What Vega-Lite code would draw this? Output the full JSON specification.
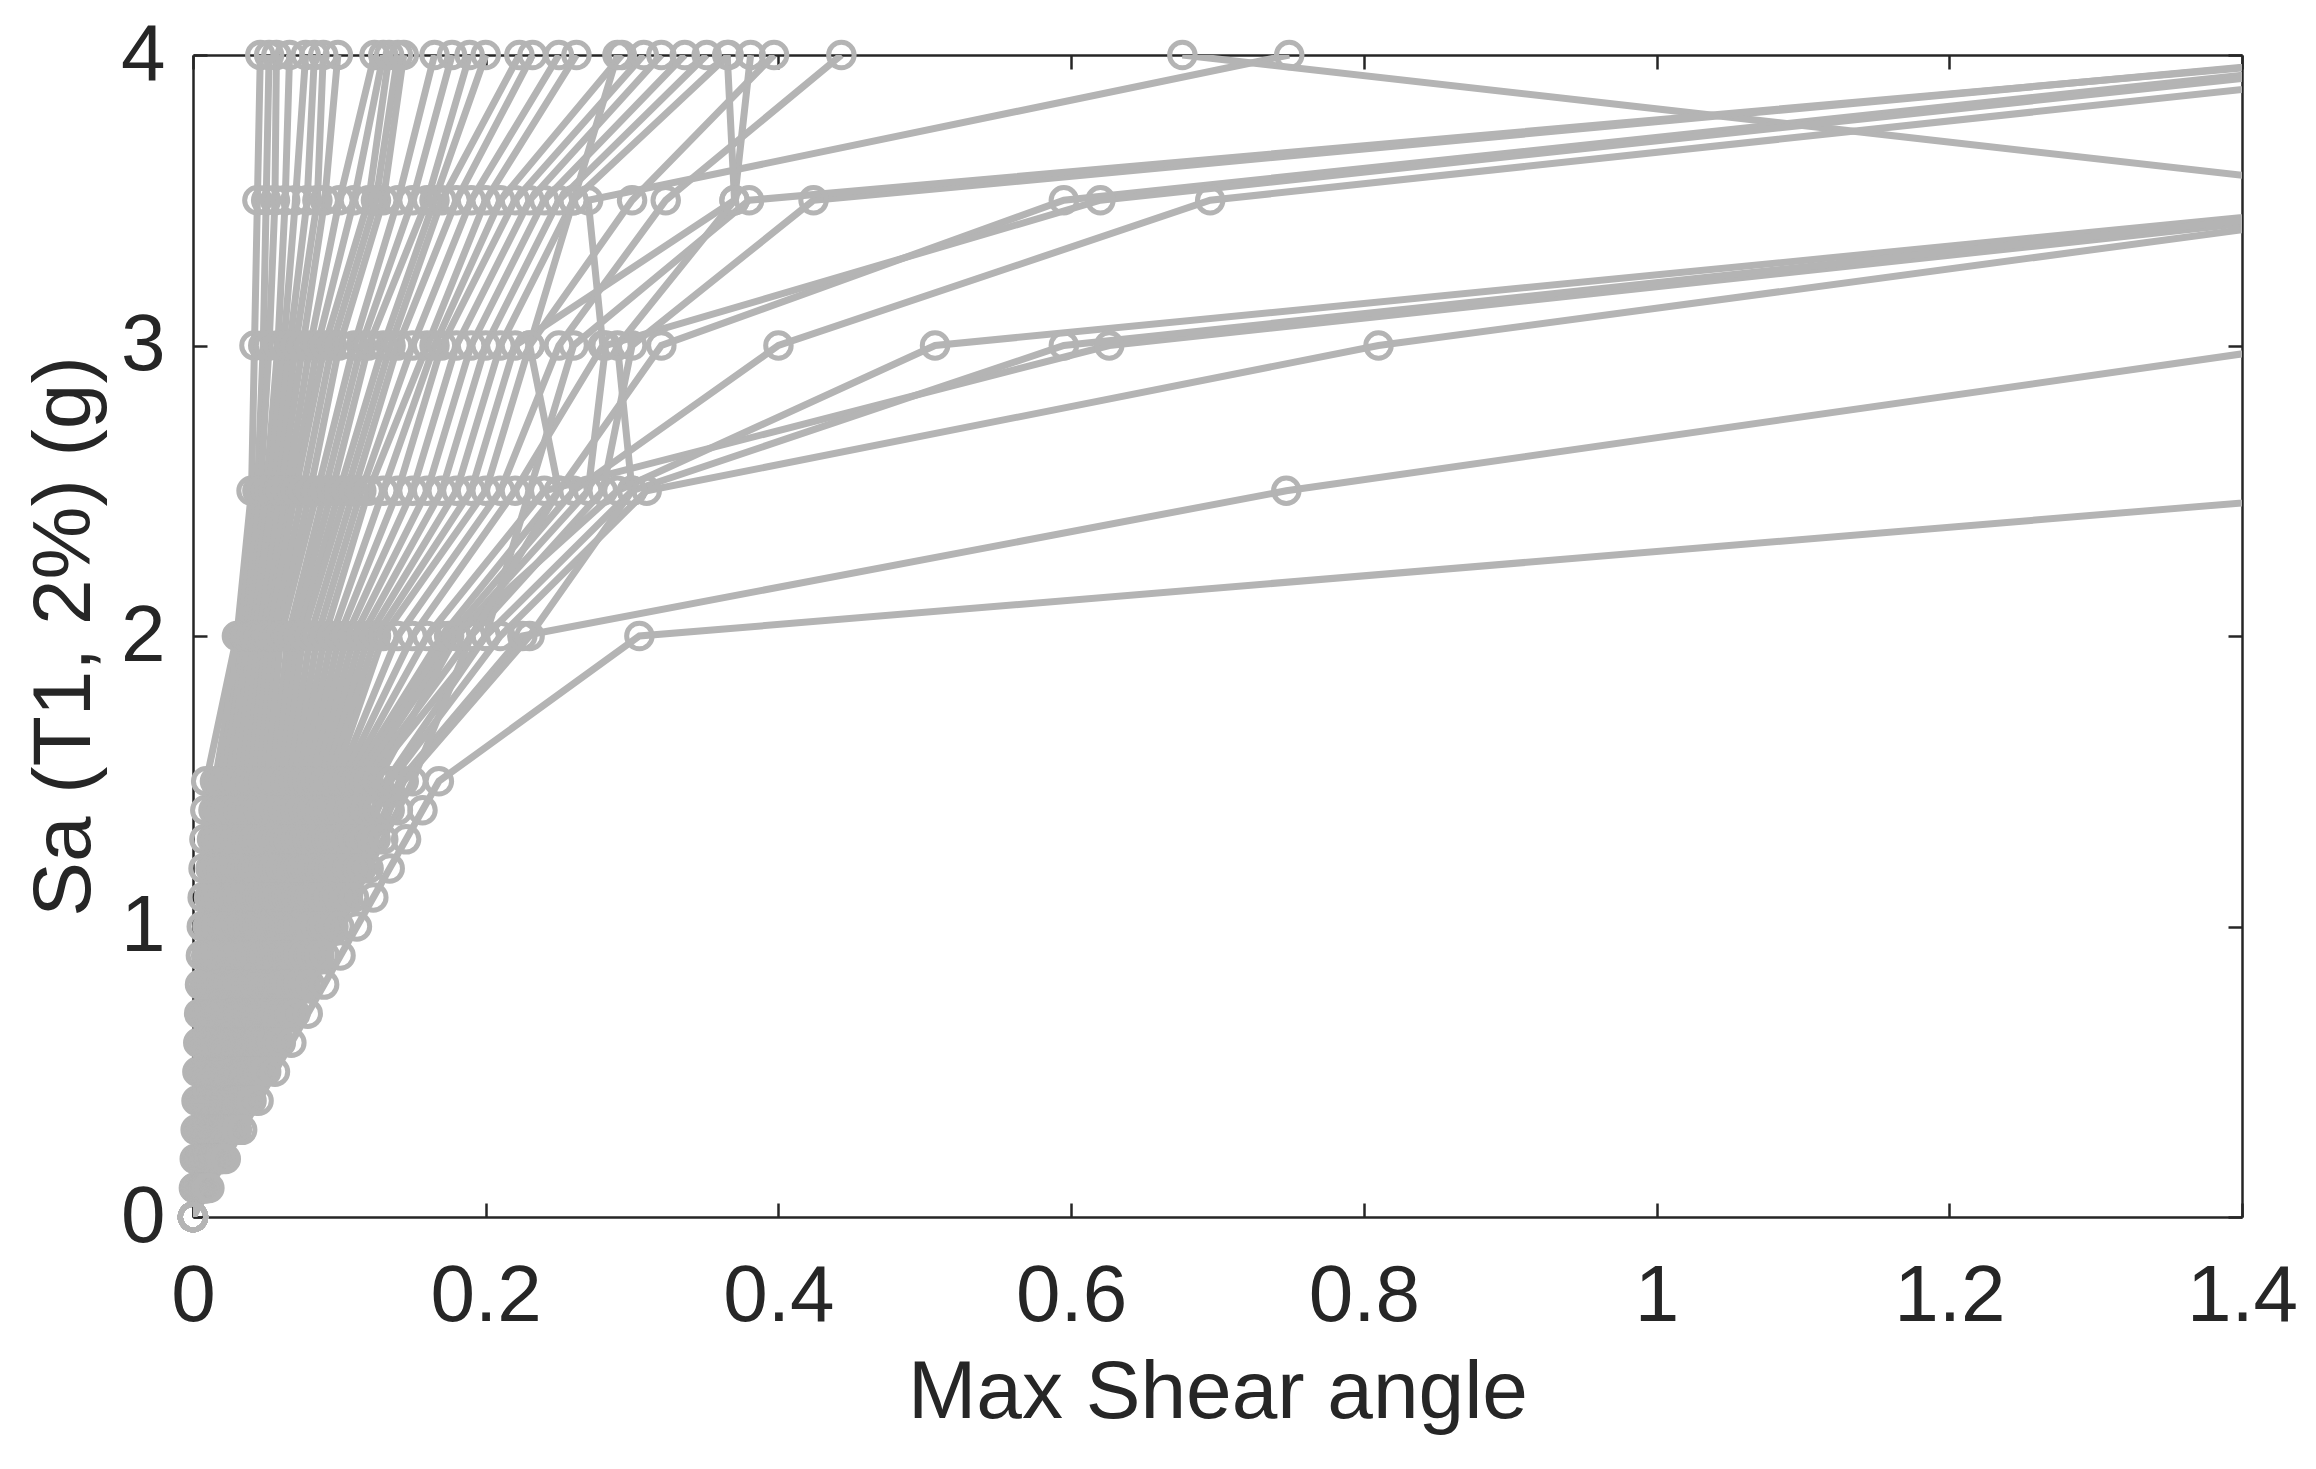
{
"$schema": "https://vega.github.io/schema/vega-lite/v6.json",
"width": 2049, "height": 1162,
"autosize": {"type": "none"},
"padding": {"left": 193, "top": 55, "right": 74, "bottom": 252},
"background": "white",
"config": {"view": {"stroke": null}, "font": "Liberation Sans"},
"data": {"values": [
{"c":1,"x":0,"y":0},{"c":1,"x":0.0006,"y":0.1},{"c":1,"x":0.0012,"y":0.2},{"c":1,"x":0.0018,"y":0.3},{"c":1,"x":0.0024,"y":0.4},{"c":1,"x":0.003,"y":0.5},{"c":1,"x":0.0036,"y":0.6},{"c":1,"x":0.0042,"y":0.7},{"c":1,"x":0.0048,"y":0.8},{"c":1,"x":0.0054,"y":0.9},{"c":1,"x":0.006,"y":1.0},{"c":1,"x":0.0066,"y":1.1},{"c":1,"x":0.0072,"y":1.2},{"c":1,"x":0.0078,"y":1.3},{"c":1,"x":0.0084,"y":1.4},{"c":1,"x":0.009,"y":1.5},{"c":1,"x":0.03,"y":2.0},{"c":1,"x":0.04,"y":2.5},{"c":1,"x":0.042,"y":3.0},{"c":1,"x":0.044,"y":3.5},{"c":1,"x":0.046,"y":4.0},
{"c":2,"x":0,"y":0},{"c":2,"x":0.001,"y":0.1},{"c":2,"x":0.002,"y":0.2},{"c":2,"x":0.003,"y":0.3},{"c":2,"x":0.004,"y":0.4},{"c":2,"x":0.005,"y":0.5},{"c":2,"x":0.006,"y":0.6},{"c":2,"x":0.007,"y":0.7},{"c":2,"x":0.008,"y":0.8},{"c":2,"x":0.009,"y":0.9},{"c":2,"x":0.01,"y":1.0},{"c":2,"x":0.011,"y":1.1},{"c":2,"x":0.012,"y":1.2},{"c":2,"x":0.013,"y":1.3},{"c":2,"x":0.014,"y":1.4},{"c":2,"x":0.015,"y":1.5},{"c":2,"x":0.032,"y":2.0},{"c":2,"x":0.044,"y":2.5},{"c":2,"x":0.048,"y":3.0},{"c":2,"x":0.05,"y":3.5},{"c":2,"x":0.052,"y":4.0},
{"c":3,"x":0,"y":0},{"c":3,"x":0.0012,"y":0.1},{"c":3,"x":0.0024,"y":0.2},{"c":3,"x":0.0036,"y":0.3},{"c":3,"x":0.0048,"y":0.4},{"c":3,"x":0.006,"y":0.5},{"c":3,"x":0.0072,"y":0.6},{"c":3,"x":0.0084,"y":0.7},{"c":3,"x":0.0096,"y":0.8},{"c":3,"x":0.0108,"y":0.9},{"c":3,"x":0.012,"y":1.0},{"c":3,"x":0.0132,"y":1.1},{"c":3,"x":0.0144,"y":1.2},{"c":3,"x":0.0156,"y":1.3},{"c":3,"x":0.0168,"y":1.4},{"c":3,"x":0.018,"y":1.5},{"c":3,"x":0.035,"y":2.0},{"c":3,"x":0.046,"y":2.5},{"c":3,"x":0.052,"y":3.0},{"c":3,"x":0.056,"y":3.5},{"c":3,"x":0.057,"y":4.0},
{"c":4,"x":0,"y":0},{"c":4,"x":0.0014,"y":0.1},{"c":4,"x":0.0028,"y":0.2},{"c":4,"x":0.0042,"y":0.3},{"c":4,"x":0.0056,"y":0.4},{"c":4,"x":0.007,"y":0.5},{"c":4,"x":0.0084,"y":0.6},{"c":4,"x":0.0098,"y":0.7},{"c":4,"x":0.0112,"y":0.8},{"c":4,"x":0.0126,"y":0.9},{"c":4,"x":0.014,"y":1.0},{"c":4,"x":0.0154,"y":1.1},{"c":4,"x":0.0168,"y":1.2},{"c":4,"x":0.0182,"y":1.3},{"c":4,"x":0.0196,"y":1.4},{"c":4,"x":0.021,"y":1.5},{"c":4,"x":0.036,"y":2.0},{"c":4,"x":0.05,"y":2.5},{"c":4,"x":0.058,"y":3.0},{"c":4,"x":0.063,"y":3.5},{"c":4,"x":0.066,"y":4.0},
{"c":5,"x":0,"y":0},{"c":5,"x":0.0016,"y":0.1},{"c":5,"x":0.0032,"y":0.2},{"c":5,"x":0.0048,"y":0.3},{"c":5,"x":0.0064,"y":0.4},{"c":5,"x":0.008,"y":0.5},{"c":5,"x":0.0096,"y":0.6},{"c":5,"x":0.0112,"y":0.7},{"c":5,"x":0.0128,"y":0.8},{"c":5,"x":0.0144,"y":0.9},{"c":5,"x":0.016,"y":1.0},{"c":5,"x":0.0176,"y":1.1},{"c":5,"x":0.0192,"y":1.2},{"c":5,"x":0.0208,"y":1.3},{"c":5,"x":0.0224,"y":1.4},{"c":5,"x":0.024,"y":1.5},{"c":5,"x":0.038,"y":2.0},{"c":5,"x":0.052,"y":2.5},{"c":5,"x":0.062,"y":3.0},{"c":5,"x":0.07,"y":3.5},{"c":5,"x":0.077,"y":4.0},
{"c":6,"x":0,"y":0},{"c":6,"x":0.0018,"y":0.1},{"c":6,"x":0.0036,"y":0.2},{"c":6,"x":0.0054,"y":0.3},{"c":6,"x":0.0072,"y":0.4},{"c":6,"x":0.009,"y":0.5},{"c":6,"x":0.0108,"y":0.6},{"c":6,"x":0.0126,"y":0.7},{"c":6,"x":0.0144,"y":0.8},{"c":6,"x":0.0162,"y":0.9},{"c":6,"x":0.018,"y":1.0},{"c":6,"x":0.0198,"y":1.1},{"c":6,"x":0.0216,"y":1.2},{"c":6,"x":0.0234,"y":1.3},{"c":6,"x":0.0252,"y":1.4},{"c":6,"x":0.027,"y":1.5},{"c":6,"x":0.04,"y":2.0},{"c":6,"x":0.055,"y":2.5},{"c":6,"x":0.066,"y":3.0},{"c":6,"x":0.078,"y":3.5},{"c":6,"x":0.083,"y":4.0},
{"c":7,"x":0,"y":0},{"c":7,"x":0.002,"y":0.1},{"c":7,"x":0.004,"y":0.2},{"c":7,"x":0.006,"y":0.3},{"c":7,"x":0.008,"y":0.4},{"c":7,"x":0.01,"y":0.5},{"c":7,"x":0.012,"y":0.6},{"c":7,"x":0.014,"y":0.7},{"c":7,"x":0.016,"y":0.8},{"c":7,"x":0.018,"y":0.9},{"c":7,"x":0.02,"y":1.0},{"c":7,"x":0.022,"y":1.1},{"c":7,"x":0.024,"y":1.2},{"c":7,"x":0.026,"y":1.3},{"c":7,"x":0.028,"y":1.4},{"c":7,"x":0.03,"y":1.5},{"c":7,"x":0.042,"y":2.0},{"c":7,"x":0.058,"y":2.5},{"c":7,"x":0.07,"y":3.0},{"c":7,"x":0.085,"y":3.5},{"c":7,"x":0.089,"y":4.0},
{"c":8,"x":0,"y":0},{"c":8,"x":0.0022,"y":0.1},{"c":8,"x":0.0044,"y":0.2},{"c":8,"x":0.0066,"y":0.3},{"c":8,"x":0.0088,"y":0.4},{"c":8,"x":0.011,"y":0.5},{"c":8,"x":0.0132,"y":0.6},{"c":8,"x":0.0154,"y":0.7},{"c":8,"x":0.0176,"y":0.8},{"c":8,"x":0.0198,"y":0.9},{"c":8,"x":0.022,"y":1.0},{"c":8,"x":0.0242,"y":1.1},{"c":8,"x":0.0264,"y":1.2},{"c":8,"x":0.0286,"y":1.3},{"c":8,"x":0.0308,"y":1.4},{"c":8,"x":0.033,"y":1.5},{"c":8,"x":0.045,"y":2.0},{"c":8,"x":0.06,"y":2.5},{"c":8,"x":0.075,"y":3.0},{"c":8,"x":0.09,"y":3.5},{"c":8,"x":0.099,"y":4.0},
{"c":9,"x":0,"y":0},{"c":9,"x":0.0024,"y":0.1},{"c":9,"x":0.0048,"y":0.2},{"c":9,"x":0.0072,"y":0.3},{"c":9,"x":0.0096,"y":0.4},{"c":9,"x":0.012,"y":0.5},{"c":9,"x":0.0144,"y":0.6},{"c":9,"x":0.0168,"y":0.7},{"c":9,"x":0.0192,"y":0.8},{"c":9,"x":0.0216,"y":0.9},{"c":9,"x":0.024,"y":1.0},{"c":9,"x":0.0264,"y":1.1},{"c":9,"x":0.0288,"y":1.2},{"c":9,"x":0.0312,"y":1.3},{"c":9,"x":0.0336,"y":1.4},{"c":9,"x":0.036,"y":1.5},{"c":9,"x":0.048,"y":2.0},{"c":9,"x":0.064,"y":2.5},{"c":9,"x":0.08,"y":3.0},{"c":9,"x":0.1,"y":3.5},{"c":9,"x":0.124,"y":4.0},
{"c":10,"x":0,"y":0},{"c":10,"x":0.0026,"y":0.1},{"c":10,"x":0.0052,"y":0.2},{"c":10,"x":0.0078,"y":0.3},{"c":10,"x":0.0104,"y":0.4},{"c":10,"x":0.013,"y":0.5},{"c":10,"x":0.0156,"y":0.6},{"c":10,"x":0.0182,"y":0.7},{"c":10,"x":0.0208,"y":0.8},{"c":10,"x":0.0234,"y":0.9},{"c":10,"x":0.026,"y":1.0},{"c":10,"x":0.0286,"y":1.1},{"c":10,"x":0.0312,"y":1.2},{"c":10,"x":0.0338,"y":1.3},{"c":10,"x":0.0364,"y":1.4},{"c":10,"x":0.039,"y":1.5},{"c":10,"x":0.05,"y":2.0},{"c":10,"x":0.068,"y":2.5},{"c":10,"x":0.085,"y":3.0},{"c":10,"x":0.11,"y":3.5},{"c":10,"x":0.13,"y":4.0},
{"c":11,"x":0,"y":0},{"c":11,"x":0.0028,"y":0.1},{"c":11,"x":0.0056,"y":0.2},{"c":11,"x":0.0084,"y":0.3},{"c":11,"x":0.0112,"y":0.4},{"c":11,"x":0.014,"y":0.5},{"c":11,"x":0.0168,"y":0.6},{"c":11,"x":0.0196,"y":0.7},{"c":11,"x":0.0224,"y":0.8},{"c":11,"x":0.0252,"y":0.9},{"c":11,"x":0.028,"y":1.0},{"c":11,"x":0.0308,"y":1.1},{"c":11,"x":0.0336,"y":1.2},{"c":11,"x":0.0364,"y":1.3},{"c":11,"x":0.0392,"y":1.4},{"c":11,"x":0.042,"y":1.5},{"c":11,"x":0.052,"y":2.0},{"c":11,"x":0.07,"y":2.5},{"c":11,"x":0.09,"y":3.0},{"c":11,"x":0.12,"y":3.5},{"c":11,"x":0.134,"y":4.0},
{"c":12,"x":0,"y":0},{"c":12,"x":0.003,"y":0.1},{"c":12,"x":0.006,"y":0.2},{"c":12,"x":0.009,"y":0.3},{"c":12,"x":0.012,"y":0.4},{"c":12,"x":0.015,"y":0.5},{"c":12,"x":0.018,"y":0.6},{"c":12,"x":0.021,"y":0.7},{"c":12,"x":0.024,"y":0.8},{"c":12,"x":0.027,"y":0.9},{"c":12,"x":0.03,"y":1.0},{"c":12,"x":0.033,"y":1.1},{"c":12,"x":0.036,"y":1.2},{"c":12,"x":0.039,"y":1.3},{"c":12,"x":0.042,"y":1.4},{"c":12,"x":0.045,"y":1.5},{"c":12,"x":0.055,"y":2.0},{"c":12,"x":0.075,"y":2.5},{"c":12,"x":0.095,"y":3.0},{"c":12,"x":0.125,"y":3.5},{"c":12,"x":0.14,"y":4.0},
{"c":13,"x":0,"y":0},{"c":13,"x":0.0032,"y":0.1},{"c":13,"x":0.0064,"y":0.2},{"c":13,"x":0.0096,"y":0.3},{"c":13,"x":0.0128,"y":0.4},{"c":13,"x":0.016,"y":0.5},{"c":13,"x":0.0192,"y":0.6},{"c":13,"x":0.0224,"y":0.7},{"c":13,"x":0.0256,"y":0.8},{"c":13,"x":0.0288,"y":0.9},{"c":13,"x":0.032,"y":1.0},{"c":13,"x":0.0352,"y":1.1},{"c":13,"x":0.0384,"y":1.2},{"c":13,"x":0.0416,"y":1.3},{"c":13,"x":0.0448,"y":1.4},{"c":13,"x":0.048,"y":1.5},{"c":13,"x":0.058,"y":2.0},{"c":13,"x":0.08,"y":2.5},{"c":13,"x":0.1,"y":3.0},{"c":13,"x":0.13,"y":3.5},{"c":13,"x":0.144,"y":4.0},
{"c":14,"x":0,"y":0},{"c":14,"x":0.0034,"y":0.1},{"c":14,"x":0.0068,"y":0.2},{"c":14,"x":0.0102,"y":0.3},{"c":14,"x":0.0136,"y":0.4},{"c":14,"x":0.017,"y":0.5},{"c":14,"x":0.0204,"y":0.6},{"c":14,"x":0.0238,"y":0.7},{"c":14,"x":0.0272,"y":0.8},{"c":14,"x":0.0306,"y":0.9},{"c":14,"x":0.034,"y":1.0},{"c":14,"x":0.0374,"y":1.1},{"c":14,"x":0.0408,"y":1.2},{"c":14,"x":0.0442,"y":1.3},{"c":14,"x":0.0476,"y":1.4},{"c":14,"x":0.051,"y":1.5},{"c":14,"x":0.06,"y":2.0},{"c":14,"x":0.085,"y":2.5},{"c":14,"x":0.11,"y":3.0},{"c":14,"x":0.14,"y":3.5},{"c":14,"x":0.165,"y":4.0},
{"c":15,"x":0,"y":0},{"c":15,"x":0.0036,"y":0.1},{"c":15,"x":0.0072,"y":0.2},{"c":15,"x":0.0108,"y":0.3},{"c":15,"x":0.0144,"y":0.4},{"c":15,"x":0.018,"y":0.5},{"c":15,"x":0.0216,"y":0.6},{"c":15,"x":0.0252,"y":0.7},{"c":15,"x":0.0288,"y":0.8},{"c":15,"x":0.0324,"y":0.9},{"c":15,"x":0.036,"y":1.0},{"c":15,"x":0.0396,"y":1.1},{"c":15,"x":0.0432,"y":1.2},{"c":15,"x":0.0468,"y":1.3},{"c":15,"x":0.0504,"y":1.4},{"c":15,"x":0.054,"y":1.5},{"c":15,"x":0.065,"y":2.0},{"c":15,"x":0.09,"y":2.5},{"c":15,"x":0.115,"y":3.0},{"c":15,"x":0.15,"y":3.5},{"c":15,"x":0.177,"y":4.0},
{"c":16,"x":0,"y":0},{"c":16,"x":0.0038,"y":0.1},{"c":16,"x":0.0076,"y":0.2},{"c":16,"x":0.0114,"y":0.3},{"c":16,"x":0.0152,"y":0.4},{"c":16,"x":0.019,"y":0.5},{"c":16,"x":0.0228,"y":0.6},{"c":16,"x":0.0266,"y":0.7},{"c":16,"x":0.0304,"y":0.8},{"c":16,"x":0.0342,"y":0.9},{"c":16,"x":0.038,"y":1.0},{"c":16,"x":0.0418,"y":1.1},{"c":16,"x":0.0456,"y":1.2},{"c":16,"x":0.0494,"y":1.3},{"c":16,"x":0.0532,"y":1.4},{"c":16,"x":0.057,"y":1.5},{"c":16,"x":0.068,"y":2.0},{"c":16,"x":0.095,"y":2.5},{"c":16,"x":0.12,"y":3.0},{"c":16,"x":0.16,"y":3.5},{"c":16,"x":0.189,"y":4.0},
{"c":17,"x":0,"y":0},{"c":17,"x":0.004,"y":0.1},{"c":17,"x":0.008,"y":0.2},{"c":17,"x":0.012,"y":0.3},{"c":17,"x":0.016,"y":0.4},{"c":17,"x":0.02,"y":0.5},{"c":17,"x":0.024,"y":0.6},{"c":17,"x":0.028,"y":0.7},{"c":17,"x":0.032,"y":0.8},{"c":17,"x":0.036,"y":0.9},{"c":17,"x":0.04,"y":1.0},{"c":17,"x":0.044,"y":1.1},{"c":17,"x":0.048,"y":1.2},{"c":17,"x":0.052,"y":1.3},{"c":17,"x":0.056,"y":1.4},{"c":17,"x":0.06,"y":1.5},{"c":17,"x":0.072,"y":2.0},{"c":17,"x":0.1,"y":2.5},{"c":17,"x":0.13,"y":3.0},{"c":17,"x":0.165,"y":3.5},{"c":17,"x":0.2,"y":4.0},
{"c":18,"x":0,"y":0},{"c":18,"x":0.0042,"y":0.1},{"c":18,"x":0.0084,"y":0.2},{"c":18,"x":0.0126,"y":0.3},{"c":18,"x":0.0168,"y":0.4},{"c":18,"x":0.021,"y":0.5},{"c":18,"x":0.0252,"y":0.6},{"c":18,"x":0.0294,"y":0.7},{"c":18,"x":0.0336,"y":0.8},{"c":18,"x":0.0378,"y":0.9},{"c":18,"x":0.042,"y":1.0},{"c":18,"x":0.0462,"y":1.1},{"c":18,"x":0.0504,"y":1.2},{"c":18,"x":0.0546,"y":1.3},{"c":18,"x":0.0588,"y":1.4},{"c":18,"x":0.063,"y":1.5},{"c":18,"x":0.075,"y":2.0},{"c":18,"x":0.105,"y":2.5},{"c":18,"x":0.135,"y":3.0},{"c":18,"x":0.17,"y":3.5},{"c":18,"x":0.223,"y":4.0},
{"c":19,"x":0,"y":0},{"c":19,"x":0.0044,"y":0.1},{"c":19,"x":0.0088,"y":0.2},{"c":19,"x":0.0132,"y":0.3},{"c":19,"x":0.0176,"y":0.4},{"c":19,"x":0.022,"y":0.5},{"c":19,"x":0.0264,"y":0.6},{"c":19,"x":0.0308,"y":0.7},{"c":19,"x":0.0352,"y":0.8},{"c":19,"x":0.0396,"y":0.9},{"c":19,"x":0.044,"y":1.0},{"c":19,"x":0.0484,"y":1.1},{"c":19,"x":0.0528,"y":1.2},{"c":19,"x":0.0572,"y":1.3},{"c":19,"x":0.0616,"y":1.4},{"c":19,"x":0.066,"y":1.5},{"c":19,"x":0.08,"y":2.0},{"c":19,"x":0.11,"y":2.5},{"c":19,"x":0.14,"y":3.0},{"c":19,"x":0.18,"y":3.5},{"c":19,"x":0.232,"y":4.0},
{"c":20,"x":0,"y":0},{"c":20,"x":0.0046,"y":0.1},{"c":20,"x":0.0092,"y":0.2},{"c":20,"x":0.0138,"y":0.3},{"c":20,"x":0.0184,"y":0.4},{"c":20,"x":0.023,"y":0.5},{"c":20,"x":0.0276,"y":0.6},{"c":20,"x":0.0322,"y":0.7},{"c":20,"x":0.0368,"y":0.8},{"c":20,"x":0.0414,"y":0.9},{"c":20,"x":0.046,"y":1.0},{"c":20,"x":0.0506,"y":1.1},{"c":20,"x":0.0552,"y":1.2},{"c":20,"x":0.0598,"y":1.3},{"c":20,"x":0.0644,"y":1.4},{"c":20,"x":0.069,"y":1.5},{"c":20,"x":0.085,"y":2.0},{"c":20,"x":0.115,"y":2.5},{"c":20,"x":0.15,"y":3.0},{"c":20,"x":0.19,"y":3.5},{"c":20,"x":0.25,"y":4.0},
{"c":21,"x":0,"y":0},{"c":21,"x":0.0048,"y":0.1},{"c":21,"x":0.0096,"y":0.2},{"c":21,"x":0.0144,"y":0.3},{"c":21,"x":0.0192,"y":0.4},{"c":21,"x":0.024,"y":0.5},{"c":21,"x":0.0288,"y":0.6},{"c":21,"x":0.0336,"y":0.7},{"c":21,"x":0.0384,"y":0.8},{"c":21,"x":0.0432,"y":0.9},{"c":21,"x":0.048,"y":1.0},{"c":21,"x":0.0528,"y":1.1},{"c":21,"x":0.0576,"y":1.2},{"c":21,"x":0.0624,"y":1.3},{"c":21,"x":0.0672,"y":1.4},{"c":21,"x":0.072,"y":1.5},{"c":21,"x":0.09,"y":2.0},{"c":21,"x":0.12,"y":2.5},{"c":21,"x":0.16,"y":3.0},{"c":21,"x":0.2,"y":3.5},{"c":21,"x":0.262,"y":4.0},
{"c":22,"x":0,"y":0},{"c":22,"x":0.005,"y":0.1},{"c":22,"x":0.01,"y":0.2},{"c":22,"x":0.015,"y":0.3},{"c":22,"x":0.02,"y":0.4},{"c":22,"x":0.025,"y":0.5},{"c":22,"x":0.03,"y":0.6},{"c":22,"x":0.035,"y":0.7},{"c":22,"x":0.04,"y":0.8},{"c":22,"x":0.045,"y":0.9},{"c":22,"x":0.05,"y":1.0},{"c":22,"x":0.055,"y":1.1},{"c":22,"x":0.06,"y":1.2},{"c":22,"x":0.065,"y":1.3},{"c":22,"x":0.07,"y":1.4},{"c":22,"x":0.075,"y":1.5},{"c":22,"x":0.095,"y":2.0},{"c":22,"x":0.13,"y":2.5},{"c":22,"x":0.165,"y":3.0},{"c":22,"x":0.21,"y":3.5},{"c":22,"x":0.293,"y":4.0},
{"c":23,"x":0,"y":0},{"c":23,"x":0.0052,"y":0.1},{"c":23,"x":0.0104,"y":0.2},{"c":23,"x":0.0156,"y":0.3},{"c":23,"x":0.0208,"y":0.4},{"c":23,"x":0.026,"y":0.5},{"c":23,"x":0.0312,"y":0.6},{"c":23,"x":0.0364,"y":0.7},{"c":23,"x":0.0416,"y":0.8},{"c":23,"x":0.0468,"y":0.9},{"c":23,"x":0.052,"y":1.0},{"c":23,"x":0.0572,"y":1.1},{"c":23,"x":0.0624,"y":1.2},{"c":23,"x":0.0676,"y":1.3},{"c":23,"x":0.0728,"y":1.4},{"c":23,"x":0.078,"y":1.5},{"c":23,"x":0.1,"y":2.0},{"c":23,"x":0.14,"y":2.5},{"c":23,"x":0.17,"y":3.0},{"c":23,"x":0.22,"y":3.5},{"c":23,"x":0.308,"y":4.0},
{"c":24,"x":0,"y":0},{"c":24,"x":0.0054,"y":0.1},{"c":24,"x":0.0108,"y":0.2},{"c":24,"x":0.0162,"y":0.3},{"c":24,"x":0.0216,"y":0.4},{"c":24,"x":0.027,"y":0.5},{"c":24,"x":0.0324,"y":0.6},{"c":24,"x":0.0378,"y":0.7},{"c":24,"x":0.0432,"y":0.8},{"c":24,"x":0.0486,"y":0.9},{"c":24,"x":0.054,"y":1.0},{"c":24,"x":0.0594,"y":1.1},{"c":24,"x":0.0648,"y":1.2},{"c":24,"x":0.0702,"y":1.3},{"c":24,"x":0.0756,"y":1.4},{"c":24,"x":0.081,"y":1.5},{"c":24,"x":0.105,"y":2.0},{"c":24,"x":0.15,"y":2.5},{"c":24,"x":0.18,"y":3.0},{"c":24,"x":0.23,"y":3.5},{"c":24,"x":0.32,"y":4.0},
{"c":25,"x":0,"y":0},{"c":25,"x":0.0056,"y":0.1},{"c":25,"x":0.0112,"y":0.2},{"c":25,"x":0.0168,"y":0.3},{"c":25,"x":0.0224,"y":0.4},{"c":25,"x":0.028,"y":0.5},{"c":25,"x":0.0336,"y":0.6},{"c":25,"x":0.0392,"y":0.7},{"c":25,"x":0.0448,"y":0.8},{"c":25,"x":0.0504,"y":0.9},{"c":25,"x":0.056,"y":1.0},{"c":25,"x":0.0616,"y":1.1},{"c":25,"x":0.0672,"y":1.2},{"c":25,"x":0.0728,"y":1.3},{"c":25,"x":0.0784,"y":1.4},{"c":25,"x":0.084,"y":1.5},{"c":25,"x":0.11,"y":2.0},{"c":25,"x":0.16,"y":2.5},{"c":25,"x":0.19,"y":3.0},{"c":25,"x":0.24,"y":3.5},{"c":25,"x":0.336,"y":4.0},
{"c":26,"x":0,"y":0},{"c":26,"x":0.0058,"y":0.1},{"c":26,"x":0.0116,"y":0.2},{"c":26,"x":0.0174,"y":0.3},{"c":26,"x":0.0232,"y":0.4},{"c":26,"x":0.029,"y":0.5},{"c":26,"x":0.0348,"y":0.6},{"c":26,"x":0.0406,"y":0.7},{"c":26,"x":0.0464,"y":0.8},{"c":26,"x":0.0522,"y":0.9},{"c":26,"x":0.058,"y":1.0},{"c":26,"x":0.0638,"y":1.1},{"c":26,"x":0.0696,"y":1.2},{"c":26,"x":0.0754,"y":1.3},{"c":26,"x":0.0812,"y":1.4},{"c":26,"x":0.087,"y":1.5},{"c":26,"x":0.115,"y":2.0},{"c":26,"x":0.17,"y":2.5},{"c":26,"x":0.2,"y":3.0},{"c":26,"x":0.25,"y":3.5},{"c":26,"x":0.351,"y":4.0},
{"c":27,"x":0,"y":0},{"c":27,"x":0.006,"y":0.1},{"c":27,"x":0.012,"y":0.2},{"c":27,"x":0.018,"y":0.3},{"c":27,"x":0.024,"y":0.4},{"c":27,"x":0.03,"y":0.5},{"c":27,"x":0.036,"y":0.6},{"c":27,"x":0.042,"y":0.7},{"c":27,"x":0.048,"y":0.8},{"c":27,"x":0.054,"y":0.9},{"c":27,"x":0.06,"y":1.0},{"c":27,"x":0.066,"y":1.1},{"c":27,"x":0.072,"y":1.2},{"c":27,"x":0.078,"y":1.3},{"c":27,"x":0.084,"y":1.4},{"c":27,"x":0.09,"y":1.5},{"c":27,"x":0.12,"y":2.0},{"c":27,"x":0.18,"y":2.5},{"c":27,"x":0.21,"y":3.0},{"c":27,"x":0.26,"y":3.5},{"c":27,"x":0.366,"y":4.0},
{"c":28,"x":0,"y":0},{"c":28,"x":0.0062,"y":0.1},{"c":28,"x":0.0124,"y":0.2},{"c":28,"x":0.0186,"y":0.3},{"c":28,"x":0.0248,"y":0.4},{"c":28,"x":0.031,"y":0.5},{"c":28,"x":0.0372,"y":0.6},{"c":28,"x":0.0434,"y":0.7},{"c":28,"x":0.0496,"y":0.8},{"c":28,"x":0.0558,"y":0.9},{"c":28,"x":0.062,"y":1.0},{"c":28,"x":0.0682,"y":1.1},{"c":28,"x":0.0744,"y":1.2},{"c":28,"x":0.0806,"y":1.3},{"c":28,"x":0.0868,"y":1.4},{"c":28,"x":0.093,"y":1.5},{"c":28,"x":0.125,"y":2.0},{"c":28,"x":0.19,"y":2.5},{"c":28,"x":0.22,"y":3.0},{"c":28,"x":0.37,"y":3.5},{"c":28,"x":0.381,"y":4.0},
{"c":29,"x":0,"y":0},{"c":29,"x":0.0064,"y":0.1},{"c":29,"x":0.0128,"y":0.2},{"c":29,"x":0.0192,"y":0.3},{"c":29,"x":0.0256,"y":0.4},{"c":29,"x":0.032,"y":0.5},{"c":29,"x":0.0384,"y":0.6},{"c":29,"x":0.0448,"y":0.7},{"c":29,"x":0.0512,"y":0.8},{"c":29,"x":0.0576,"y":0.9},{"c":29,"x":0.064,"y":1.0},{"c":29,"x":0.0704,"y":1.1},{"c":29,"x":0.0768,"y":1.2},{"c":29,"x":0.0832,"y":1.3},{"c":29,"x":0.0896,"y":1.4},{"c":29,"x":0.096,"y":1.5},{"c":29,"x":0.13,"y":2.0},{"c":29,"x":0.2,"y":2.5},{"c":29,"x":0.23,"y":3.0},{"c":29,"x":0.3,"y":3.5},{"c":29,"x":0.397,"y":4.0},
{"c":30,"x":0,"y":0},{"c":30,"x":0.0066,"y":0.1},{"c":30,"x":0.0132,"y":0.2},{"c":30,"x":0.0198,"y":0.3},{"c":30,"x":0.0264,"y":0.4},{"c":30,"x":0.033,"y":0.5},{"c":30,"x":0.0396,"y":0.6},{"c":30,"x":0.0462,"y":0.7},{"c":30,"x":0.0528,"y":0.8},{"c":30,"x":0.0594,"y":0.9},{"c":30,"x":0.066,"y":1.0},{"c":30,"x":0.0726,"y":1.1},{"c":30,"x":0.0792,"y":1.2},{"c":30,"x":0.0858,"y":1.3},{"c":30,"x":0.0924,"y":1.4},{"c":30,"x":0.099,"y":1.5},{"c":30,"x":0.14,"y":2.0},{"c":30,"x":0.21,"y":2.5},{"c":30,"x":0.25,"y":3.0},{"c":30,"x":0.323,"y":3.5},{"c":30,"x":0.443,"y":4.0},
{"c":31,"x":0,"y":0},{"c":31,"x":0.0068,"y":0.1},{"c":31,"x":0.0136,"y":0.2},{"c":31,"x":0.0204,"y":0.3},{"c":31,"x":0.0272,"y":0.4},{"c":31,"x":0.034,"y":0.5},{"c":31,"x":0.0408,"y":0.6},{"c":31,"x":0.0476,"y":0.7},{"c":31,"x":0.0544,"y":0.8},{"c":31,"x":0.0612,"y":0.9},{"c":31,"x":0.068,"y":1.0},{"c":31,"x":0.0748,"y":1.1},{"c":31,"x":0.0816,"y":1.2},{"c":31,"x":0.0884,"y":1.3},{"c":31,"x":0.0952,"y":1.4},{"c":31,"x":0.102,"y":1.5},{"c":31,"x":0.15,"y":2.0},{"c":31,"x":0.22,"y":2.5},{"c":31,"x":0.28,"y":3.0},{"c":31,"x":0.27,"y":3.5},{"c":31,"x":0.749,"y":4.0},
{"c":32,"x":0,"y":0},{"c":32,"x":0.007,"y":0.1},{"c":32,"x":0.014,"y":0.2},{"c":32,"x":0.021,"y":0.3},{"c":32,"x":0.028,"y":0.4},{"c":32,"x":0.035,"y":0.5},{"c":32,"x":0.042,"y":0.6},{"c":32,"x":0.049,"y":0.7},{"c":32,"x":0.056,"y":0.8},{"c":32,"x":0.063,"y":0.9},{"c":32,"x":0.07,"y":1.0},{"c":32,"x":0.077,"y":1.1},{"c":32,"x":0.084,"y":1.2},{"c":32,"x":0.091,"y":1.3},{"c":32,"x":0.098,"y":1.4},{"c":32,"x":0.105,"y":1.5},{"c":32,"x":0.16,"y":2.0},{"c":32,"x":0.24,"y":2.5},{"c":32,"x":0.626,"y":3.0},{"c":32,"x":1.55,"y":3.5},{"c":32,"x":0.676,"y":4.0},
{"c":33,"x":0,"y":0},{"c":33,"x":0.0072,"y":0.1},{"c":33,"x":0.0144,"y":0.2},{"c":33,"x":0.0216,"y":0.3},{"c":33,"x":0.0288,"y":0.4},{"c":33,"x":0.036,"y":0.5},{"c":33,"x":0.0432,"y":0.6},{"c":33,"x":0.0504,"y":0.7},{"c":33,"x":0.0576,"y":0.8},{"c":33,"x":0.0648,"y":0.9},{"c":33,"x":0.072,"y":1.0},{"c":33,"x":0.0792,"y":1.1},{"c":33,"x":0.0864,"y":1.2},{"c":33,"x":0.0936,"y":1.3},{"c":33,"x":0.1008,"y":1.4},{"c":33,"x":0.108,"y":1.5},{"c":33,"x":0.17,"y":2.0},{"c":33,"x":0.25,"y":2.5},{"c":33,"x":0.32,"y":3.0},{"c":33,"x":0.595,"y":3.5},{"c":33,"x":1.53,"y":4.0},
{"c":34,"x":0,"y":0},{"c":34,"x":0.0074,"y":0.1},{"c":34,"x":0.0148,"y":0.2},{"c":34,"x":0.0222,"y":0.3},{"c":34,"x":0.0296,"y":0.4},{"c":34,"x":0.037,"y":0.5},{"c":34,"x":0.0444,"y":0.6},{"c":34,"x":0.0518,"y":0.7},{"c":34,"x":0.0592,"y":0.8},{"c":34,"x":0.0666,"y":0.9},{"c":34,"x":0.074,"y":1.0},{"c":34,"x":0.0814,"y":1.1},{"c":34,"x":0.0888,"y":1.2},{"c":34,"x":0.0962,"y":1.3},{"c":34,"x":0.1036,"y":1.4},{"c":34,"x":0.111,"y":1.5},{"c":34,"x":0.175,"y":2.0},{"c":34,"x":0.26,"y":2.5},{"c":34,"x":0.4,"y":3.0},{"c":34,"x":0.695,"y":3.5},{"c":34,"x":1.62,"y":4.0},
{"c":35,"x":0,"y":0},{"c":35,"x":0.0076,"y":0.1},{"c":35,"x":0.0152,"y":0.2},{"c":35,"x":0.0228,"y":0.3},{"c":35,"x":0.0304,"y":0.4},{"c":35,"x":0.038,"y":0.5},{"c":35,"x":0.0456,"y":0.6},{"c":35,"x":0.0532,"y":0.7},{"c":35,"x":0.0608,"y":0.8},{"c":35,"x":0.0684,"y":0.9},{"c":35,"x":0.076,"y":1.0},{"c":35,"x":0.0836,"y":1.1},{"c":35,"x":0.0912,"y":1.2},{"c":35,"x":0.0988,"y":1.3},{"c":35,"x":0.1064,"y":1.4},{"c":35,"x":0.114,"y":1.5},{"c":35,"x":0.18,"y":2.0},{"c":35,"x":0.27,"y":2.5},{"c":35,"x":0.282,"y":3.0},{"c":35,"x":0.62,"y":3.5},{"c":35,"x":1.55,"y":4.0},
{"c":36,"x":0,"y":0},{"c":36,"x":0.0078,"y":0.1},{"c":36,"x":0.0156,"y":0.2},{"c":36,"x":0.0234,"y":0.3},{"c":36,"x":0.0312,"y":0.4},{"c":36,"x":0.039,"y":0.5},{"c":36,"x":0.0468,"y":0.6},{"c":36,"x":0.0546,"y":0.7},{"c":36,"x":0.0624,"y":0.8},{"c":36,"x":0.0702,"y":0.9},{"c":36,"x":0.078,"y":1.0},{"c":36,"x":0.0858,"y":1.1},{"c":36,"x":0.0936,"y":1.2},{"c":36,"x":0.1014,"y":1.3},{"c":36,"x":0.1092,"y":1.4},{"c":36,"x":0.117,"y":1.5},{"c":36,"x":0.19,"y":2.0},{"c":36,"x":0.28,"y":2.5},{"c":36,"x":0.3,"y":3.0},{"c":36,"x":0.424,"y":3.5},{"c":36,"x":1.49,"y":4.0},
{"c":37,"x":0,"y":0},{"c":37,"x":0.008,"y":0.1},{"c":37,"x":0.016,"y":0.2},{"c":37,"x":0.024,"y":0.3},{"c":37,"x":0.032,"y":0.4},{"c":37,"x":0.04,"y":0.5},{"c":37,"x":0.048,"y":0.6},{"c":37,"x":0.056,"y":0.7},{"c":37,"x":0.064,"y":0.8},{"c":37,"x":0.072,"y":0.9},{"c":37,"x":0.08,"y":1.0},{"c":37,"x":0.088,"y":1.1},{"c":37,"x":0.096,"y":1.2},{"c":37,"x":0.104,"y":1.3},{"c":37,"x":0.112,"y":1.4},{"c":37,"x":0.12,"y":1.5},{"c":37,"x":0.2,"y":2.0},{"c":37,"x":0.23,"y":2.5},{"c":37,"x":0.26,"y":3.0},{"c":37,"x":0.38,"y":3.5},{"c":37,"x":1.5,"y":4.0},
{"c":38,"x":0,"y":0},{"c":38,"x":0.0084,"y":0.1},{"c":38,"x":0.0168,"y":0.2},{"c":38,"x":0.0252,"y":0.3},{"c":38,"x":0.0336,"y":0.4},{"c":38,"x":0.042,"y":0.5},{"c":38,"x":0.0504,"y":0.6},{"c":38,"x":0.0588,"y":0.7},{"c":38,"x":0.0672,"y":0.8},{"c":38,"x":0.0756,"y":0.9},{"c":38,"x":0.084,"y":1.0},{"c":38,"x":0.0924,"y":1.1},{"c":38,"x":0.1008,"y":1.2},{"c":38,"x":0.1092,"y":1.3},{"c":38,"x":0.1176,"y":1.4},{"c":38,"x":0.126,"y":1.5},{"c":38,"x":0.18,"y":2.0},{"c":38,"x":0.29,"y":2.5},{"c":38,"x":0.507,"y":3.0},{"c":38,"x":1.52,"y":3.5},
{"c":39,"x":0,"y":0},{"c":39,"x":0.0088,"y":0.1},{"c":39,"x":0.0176,"y":0.2},{"c":39,"x":0.0264,"y":0.3},{"c":39,"x":0.0352,"y":0.4},{"c":39,"x":0.044,"y":0.5},{"c":39,"x":0.0528,"y":0.6},{"c":39,"x":0.0616,"y":0.7},{"c":39,"x":0.0704,"y":0.8},{"c":39,"x":0.0792,"y":0.9},{"c":39,"x":0.088,"y":1.0},{"c":39,"x":0.0968,"y":1.1},{"c":39,"x":0.1056,"y":1.2},{"c":39,"x":0.1144,"y":1.3},{"c":39,"x":0.1232,"y":1.4},{"c":39,"x":0.132,"y":1.5},{"c":39,"x":0.2,"y":2.0},{"c":39,"x":0.3,"y":2.5},{"c":39,"x":0.595,"y":3.0},{"c":39,"x":1.53,"y":3.5},
{"c":40,"x":0,"y":0},{"c":40,"x":0.009,"y":0.1},{"c":40,"x":0.018,"y":0.2},{"c":40,"x":0.027,"y":0.3},{"c":40,"x":0.036,"y":0.4},{"c":40,"x":0.045,"y":0.5},{"c":40,"x":0.054,"y":0.6},{"c":40,"x":0.063,"y":0.7},{"c":40,"x":0.072,"y":0.8},{"c":40,"x":0.081,"y":0.9},{"c":40,"x":0.09,"y":1.0},{"c":40,"x":0.099,"y":1.1},{"c":40,"x":0.108,"y":1.2},{"c":40,"x":0.117,"y":1.3},{"c":40,"x":0.126,"y":1.4},{"c":40,"x":0.135,"y":1.5},{"c":40,"x":0.21,"y":2.0},{"c":40,"x":0.31,"y":2.5},{"c":40,"x":0.81,"y":3.0},{"c":40,"x":1.55,"y":3.5},
{"c":41,"x":0,"y":0},{"c":41,"x":0.0094,"y":0.1},{"c":41,"x":0.0188,"y":0.2},{"c":41,"x":0.0282,"y":0.3},{"c":41,"x":0.0376,"y":0.4},{"c":41,"x":0.047,"y":0.5},{"c":41,"x":0.0564,"y":0.6},{"c":41,"x":0.0658,"y":0.7},{"c":41,"x":0.0752,"y":0.8},{"c":41,"x":0.0846,"y":0.9},{"c":41,"x":0.094,"y":1.0},{"c":41,"x":0.1034,"y":1.1},{"c":41,"x":0.1128,"y":1.2},{"c":41,"x":0.1222,"y":1.3},{"c":41,"x":0.1316,"y":1.4},{"c":41,"x":0.141,"y":1.5},{"c":41,"x":0.225,"y":2.0},{"c":41,"x":0.747,"y":2.5},{"c":41,"x":1.44,"y":3.0},
{"c":42,"x":0,"y":0},{"c":42,"x":0.0096,"y":0.1},{"c":42,"x":0.0192,"y":0.2},{"c":42,"x":0.0288,"y":0.3},{"c":42,"x":0.0384,"y":0.4},{"c":42,"x":0.048,"y":0.5},{"c":42,"x":0.0576,"y":0.6},{"c":42,"x":0.0672,"y":0.7},{"c":42,"x":0.0768,"y":0.8},{"c":42,"x":0.0864,"y":0.9},{"c":42,"x":0.096,"y":1.0},{"c":42,"x":0.1056,"y":1.1},{"c":42,"x":0.1152,"y":1.2},{"c":42,"x":0.1248,"y":1.3},{"c":42,"x":0.1344,"y":1.4},{"c":42,"x":0.144,"y":1.5},{"c":42,"x":0.23,"y":2.0},{"c":42,"x":0.3,"y":2.5},{"c":42,"x":0.29,"y":3.0},{"c":42,"x":0.37,"y":3.5},{"c":42,"x":0.365,"y":4.0},
{"c":43,"x":0,"y":0},{"c":43,"x":0.01,"y":0.1},{"c":43,"x":0.02,"y":0.2},{"c":43,"x":0.03,"y":0.3},{"c":43,"x":0.04,"y":0.4},{"c":43,"x":0.05,"y":0.5},{"c":43,"x":0.06,"y":0.6},{"c":43,"x":0.07,"y":0.7},{"c":43,"x":0.08,"y":0.8},{"c":43,"x":0.09,"y":0.9},{"c":43,"x":0.1,"y":1.0},{"c":43,"x":0.11,"y":1.1},{"c":43,"x":0.12,"y":1.2},{"c":43,"x":0.13,"y":1.3},{"c":43,"x":0.14,"y":1.4},{"c":43,"x":0.15,"y":1.5},{"c":43,"x":0.19,"y":2.0},{"c":43,"x":0.25,"y":2.5},{"c":43,"x":0.23,"y":3.0},{"c":43,"x":0.26,"y":3.5},{"c":43,"x":0.29,"y":4.0},
{"c":44,"x":0,"y":0},{"c":44,"x":0.0112,"y":0.1},{"c":44,"x":0.0224,"y":0.2},{"c":44,"x":0.0336,"y":0.3},{"c":44,"x":0.0448,"y":0.4},{"c":44,"x":0.056,"y":0.5},{"c":44,"x":0.0672,"y":0.6},{"c":44,"x":0.0784,"y":0.7},{"c":44,"x":0.0896,"y":0.8},{"c":44,"x":0.1008,"y":0.9},{"c":44,"x":0.112,"y":1.0},{"c":44,"x":0.1232,"y":1.1},{"c":44,"x":0.1344,"y":1.2},{"c":44,"x":0.1456,"y":1.3},{"c":44,"x":0.1568,"y":1.4},{"c":44,"x":0.168,"y":1.5},{"c":44,"x":0.305,"y":2.0},{"c":44,"x":1.5,"y":2.5}
]},
"layer": [
{"mark": {"type": "line", "clip": true, "color": "#b4b4b4", "strokeWidth": 7},
 "encoding": {
  "x": {"field": "x", "type": "quantitative", "scale": {"domain": [0, 1.4], "nice": false, "zero": false},
        "axis": {"orient": "bottom", "values": [0, 0.2, 0.4, 0.6, 0.8, 1, 1.2, 1.4], "format": "~g", "title": "Max Shear angle",
                 "grid": false, "labelFlush": false, "labelOverlap": false,
                 "domainColor": "#262626", "domainWidth": 2.5, "tickColor": "#262626", "tickWidth": 2.5, "tickSize": -14,
                 "labelPadding": 54, "labelFontSize": 80, "labelColor": "#262626", "labelFont": "Liberation Sans",
                 "titleFontSize": 82, "titleFontWeight": "normal", "titleColor": "#262626", "titleFont": "Liberation Sans", "titlePadding": 16}},
  "y": {"field": "y", "type": "quantitative", "scale": {"domain": [0, 4], "nice": false},
        "axis": {"orient": "left", "values": [0, 1, 2, 3, 4], "format": "~g", "title": "Sa (T1, 2%) (g)",
                 "grid": false, "labelOverlap": false, "labelFlush": false,
                 "domainColor": "#262626", "domainWidth": 2.5, "tickColor": "#262626", "tickWidth": 2.5, "tickSize": -14,
                 "labelPadding": 42, "labelFontSize": 80, "labelColor": "#262626", "labelFont": "Liberation Sans",
                 "titleFontSize": 82, "titleFontWeight": "normal", "titleColor": "#262626", "titleFont": "Liberation Sans", "titlePadding": 14}},
  "detail": {"field": "c", "type": "nominal"},
  "order": {"field": "y", "type": "quantitative"}
 }},
{"transform": [{"filter": "datum.x <= 1.41"}],
 "mark": {"type": "point", "shape": "circle", "filled": false, "color": "#b4b4b4", "strokeWidth": 5, "size": 650, "opacity": 1},
 "encoding": {
  "x": {"field": "x", "type": "quantitative",
        "axis": {"orient": "top", "values": [0, 0.2, 0.4, 0.6, 0.8, 1, 1.2, 1.4], "labels": false, "title": null, "grid": false,
                 "domainColor": "#262626", "domainWidth": 2.5, "tickColor": "#262626", "tickWidth": 2.5, "tickSize": -14}},
  "y": {"field": "y", "type": "quantitative",
        "axis": {"orient": "right", "values": [0, 1, 2, 3, 4], "labels": false, "title": null, "grid": false,
                 "domainColor": "#262626", "domainWidth": 2.5, "tickColor": "#262626", "tickWidth": 2.5, "tickSize": -14}}
 }}
],
"resolve": {"axis": {"x": "independent", "y": "independent"}}
}
